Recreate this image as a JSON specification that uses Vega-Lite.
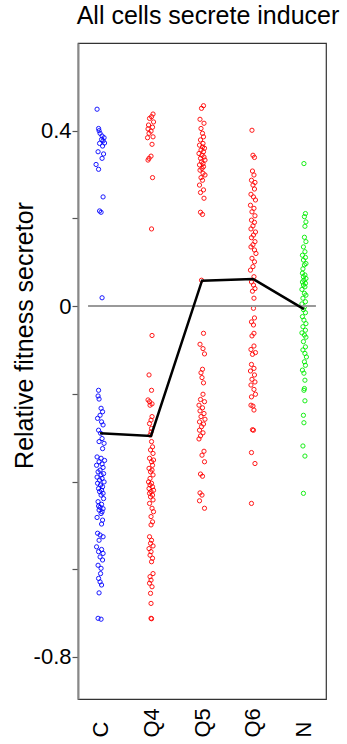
{
  "$schema": "https://vega.github.io/schema/vega-lite/v6.json",
  "width": 248,
  "height": 656,
  "autosize": {"type": "none"},
  "padding": {"left": 78, "top": 43, "right": 21, "bottom": 45},
  "background": "white",
  "title": {"text": "All cells secrete inducer", "font": "Liberation Sans", "fontSize": 25, "fontWeight": "normal", "color": "black", "offset": 18, "baseline": "alphabetic", "dx": 6, "dy": 24},
  "config": {"view": {"stroke": "#333", "strokeWidth": 1.2}, "font": "Liberation Sans"},
  "datasets": {
    "pts": [
      {"g":"C","v":0.449,"j":-0.6},{"g":"C","v":0.405,"j":-0.3},{"g":"C","v":0.400,"j":-0.2},{"g":"C","v":0.394,"j":0.0},{"g":"C","v":0.388,"j":0.4},{"g":"C","v":0.384,"j":0.8},{"g":"C","v":0.380,"j":0.3},{"g":"C","v":0.377,"j":0.6},{"g":"C","v":0.372,"j":0.9},{"g":"C","v":0.371,"j":-0.1},{"g":"C","v":0.365,"j":0.5},{"g":"C","v":0.352,"j":-0.4},{"g":"C","v":0.347,"j":0.7},{"g":"C","v":0.337,"j":0.4},{"g":"C","v":0.323,"j":-0.8},{"g":"C","v":0.312,"j":-0.3},{"g":"C","v":0.249,"j":0.6},{"g":"C","v":0.217,"j":-0.1},{"g":"C","v":0.214,"j":0.2},{"g":"C","v":0.019,"j":0.4},
      {"g":"C","v":-0.192,"j":-0.3},{"g":"C","v":-0.205,"j":-0.4},{"g":"C","v":-0.212,"j":-0.2},{"g":"C","v":-0.233,"j":0.2},{"g":"C","v":-0.241,"j":0.5},{"g":"C","v":-0.249,"j":0.0},{"g":"C","v":-0.256,"j":-0.5},{"g":"C","v":-0.264,"j":0.3},{"g":"C","v":-0.271,"j":0.6},{"g":"C","v":-0.283,"j":-0.3},{"g":"C","v":-0.290,"j":0.1},{"g":"C","v":-0.302,"j":0.4},{"g":"C","v":-0.309,"j":-0.2},{"g":"C","v":-0.313,"j":0.8},{"g":"C","v":-0.325,"j":0.5},{"g":"C","v":-0.344,"j":-0.6},{"g":"C","v":-0.347,"j":0.2},{"g":"C","v":-0.352,"j":0.9},{"g":"C","v":-0.355,"j":-0.2},{"g":"C","v":-0.360,"j":0.4},{"g":"C","v":-0.363,"j":-0.7},{"g":"C","v":-0.368,"j":0.6},{"g":"C","v":-0.374,"j":0.0},{"g":"C","v":-0.378,"j":-0.4},{"g":"C","v":-0.382,"j":0.7},{"g":"C","v":-0.385,"j":0.2},{"g":"C","v":-0.390,"j":-0.6},{"g":"C","v":-0.393,"j":0.4},{"g":"C","v":-0.397,"j":-0.1},{"g":"C","v":-0.401,"j":0.8},{"g":"C","v":-0.404,"j":-0.5},{"g":"C","v":-0.408,"j":0.1},{"g":"C","v":-0.412,"j":0.5},{"g":"C","v":-0.416,"j":-0.3},{"g":"C","v":-0.420,"j":0.3},{"g":"C","v":-0.423,"j":-0.1},{"g":"C","v":-0.427,"j":0.6},{"g":"C","v":-0.431,"j":0.2},{"g":"C","v":-0.439,"j":0.7},{"g":"C","v":-0.446,"j":-0.4},{"g":"C","v":-0.452,"j":0.3},{"g":"C","v":-0.456,"j":-0.3},{"g":"C","v":-0.459,"j":0.0},{"g":"C","v":-0.462,"j":0.6},{"g":"C","v":-0.465,"j":-0.2},{"g":"C","v":-0.469,"j":0.4},{"g":"C","v":-0.473,"j":0.2},{"g":"C","v":-0.482,"j":-0.6},{"g":"C","v":-0.488,"j":0.5},{"g":"C","v":-0.497,"j":0.3},{"g":"C","v":-0.518,"j":-0.5},{"g":"C","v":-0.522,"j":0.0},{"g":"C","v":-0.526,"j":0.6},{"g":"C","v":-0.534,"j":-0.2},{"g":"C","v":-0.549,"j":-0.7},{"g":"C","v":-0.555,"j":0.3},{"g":"C","v":-0.560,"j":-0.3},{"g":"C","v":-0.564,"j":0.6},{"g":"C","v":-0.572,"j":0.0},{"g":"C","v":-0.579,"j":0.5},{"g":"C","v":-0.591,"j":-0.4},{"g":"C","v":-0.598,"j":0.2},{"g":"C","v":-0.610,"j":0.1},{"g":"C","v":-0.621,"j":-0.3},{"g":"C","v":-0.629,"j":0.0},{"g":"C","v":-0.636,"j":0.3},{"g":"C","v":-0.654,"j":-0.2},{"g":"C","v":-0.712,"j":-0.4},{"g":"C","v":-0.714,"j":0.2},
      {"g":"Q4","v":0.438,"j":0.4},{"g":"Q4","v":0.432,"j":0.1},{"g":"Q4","v":0.428,"j":-0.3},{"g":"Q4","v":0.420,"j":0.5},{"g":"Q4","v":0.413,"j":-0.5},{"g":"Q4","v":0.408,"j":0.3},{"g":"Q4","v":0.404,"j":-0.6},{"g":"Q4","v":0.399,"j":0.0},{"g":"Q4","v":0.394,"j":-0.4},{"g":"Q4","v":0.386,"j":0.4},{"g":"Q4","v":0.384,"j":-0.7},{"g":"Q4","v":0.369,"j":0.2},{"g":"Q4","v":0.342,"j":0.0},{"g":"Q4","v":0.337,"j":-0.4},{"g":"Q4","v":0.333,"j":-0.6},{"g":"Q4","v":0.293,"j":0.3},{"g":"Q4","v":0.176,"j":0.1},{"g":"Q4","v":-0.067,"j":0.2},{"g":"Q4","v":-0.157,"j":-0.4},{"g":"Q4","v":-0.192,"j":0.1},{"g":"Q4","v":-0.214,"j":-0.6},{"g":"Q4","v":-0.218,"j":-0.3},{"g":"Q4","v":-0.223,"j":0.2},{"g":"Q4","v":-0.226,"j":-0.2},
      {"g":"Q4","v":-0.252,"j":0.2},{"g":"Q4","v":-0.260,"j":0.0},{"g":"Q4","v":-0.268,"j":-0.3},{"g":"Q4","v":-0.279,"j":0.1},{"g":"Q4","v":-0.287,"j":0.0},{"g":"Q4","v":-0.294,"j":-0.2},{"g":"Q4","v":-0.309,"j":0.1},{"g":"Q4","v":-0.321,"j":0.3},{"g":"Q4","v":-0.328,"j":-0.1},{"g":"Q4","v":-0.336,"j":0.4},{"g":"Q4","v":-0.347,"j":-0.3},{"g":"Q4","v":-0.351,"j":0.5},{"g":"Q4","v":-0.355,"j":0.1},{"g":"Q4","v":-0.363,"j":0.3},{"g":"Q4","v":-0.370,"j":-0.4},{"g":"Q4","v":-0.374,"j":0.2},{"g":"Q4","v":-0.378,"j":-0.1},{"g":"Q4","v":-0.385,"j":0.4},{"g":"Q4","v":-0.393,"j":-0.2},{"g":"Q4","v":-0.401,"j":-0.5},{"g":"Q4","v":-0.404,"j":0.1},{"g":"Q4","v":-0.408,"j":-0.2},{"g":"Q4","v":-0.412,"j":0.3},{"g":"Q4","v":-0.416,"j":-0.4},{"g":"Q4","v":-0.420,"j":0.5},{"g":"Q4","v":-0.423,"j":0.0},{"g":"Q4","v":-0.427,"j":-0.3},{"g":"Q4","v":-0.431,"j":0.3},{"g":"Q4","v":-0.435,"j":-0.1},{"g":"Q4","v":-0.442,"j":0.4},{"g":"Q4","v":-0.450,"j":-0.3},{"g":"Q4","v":-0.461,"j":0.2},{"g":"Q4","v":-0.469,"j":0.5},{"g":"Q4","v":-0.480,"j":0.0},{"g":"Q4","v":-0.492,"j":0.3},{"g":"Q4","v":-0.499,"j":0.0},{"g":"Q4","v":-0.526,"j":-0.3},{"g":"Q4","v":-0.534,"j":0.1},{"g":"Q4","v":-0.541,"j":-0.1},{"g":"Q4","v":-0.547,"j":0.4},{"g":"Q4","v":-0.553,"j":-0.4},{"g":"Q4","v":-0.560,"j":0.0},{"g":"Q4","v":-0.568,"j":-0.2},{"g":"Q4","v":-0.575,"j":0.3},{"g":"Q4","v":-0.583,"j":0.1},{"g":"Q4","v":-0.610,"j":0.4},{"g":"Q4","v":-0.617,"j":-0.2},{"g":"Q4","v":-0.625,"j":0.0},{"g":"Q4","v":-0.632,"j":-0.3},{"g":"Q4","v":-0.640,"j":0.2},{"g":"Q4","v":-0.655,"j":-0.1},{"g":"Q4","v":-0.678,"j":0.0},{"g":"Q4","v":-0.712,"j":0.0},{"g":"Q4","v":-0.713,"j":0.1},
      {"g":"Q5","v":0.457,"j":0.3},{"g":"Q5","v":0.451,"j":-0.1},{"g":"Q5","v":0.426,"j":-0.4},{"g":"Q5","v":0.417,"j":0.4},{"g":"Q5","v":0.405,"j":-0.2},{"g":"Q5","v":0.394,"j":0.1},{"g":"Q5","v":0.386,"j":0.3},{"g":"Q5","v":0.379,"j":-0.3},{"g":"Q5","v":0.371,"j":0.2},{"g":"Q5","v":0.367,"j":-0.5},{"g":"Q5","v":0.363,"j":0.1},{"g":"Q5","v":0.360,"j":0.5},{"g":"Q5","v":0.356,"j":-0.2},{"g":"Q5","v":0.352,"j":0.3},{"g":"Q5","v":0.348,"j":-0.6},{"g":"Q5","v":0.344,"j":0.0},{"g":"Q5","v":0.340,"j":0.4},{"g":"Q5","v":0.337,"j":-0.3},{"g":"Q5","v":0.333,"j":0.6},{"g":"Q5","v":0.329,"j":-0.1},{"g":"Q5","v":0.325,"j":0.2},{"g":"Q5","v":0.322,"j":-0.5},{"g":"Q5","v":0.318,"j":0.3},{"g":"Q5","v":0.314,"j":0.0},{"g":"Q5","v":0.310,"j":-0.4},{"g":"Q5","v":0.303,"j":0.2},{"g":"Q5","v":0.299,"j":0.6},{"g":"Q5","v":0.293,"j":-0.2},{"g":"Q5","v":0.287,"j":0.1},{"g":"Q5","v":0.276,"j":-0.5},{"g":"Q5","v":0.265,"j":0.3},{"g":"Q5","v":0.259,"j":-0.3},{"g":"Q5","v":0.246,"j":0.4},{"g":"Q5","v":0.214,"j":-0.3},{"g":"Q5","v":0.209,"j":0.1},{"g":"Q5","v":0.059,"j":-0.1},
      {"g":"Q5","v":-0.062,"j":0.3},{"g":"Q5","v":-0.087,"j":-0.4},{"g":"Q5","v":-0.097,"j":0.2},{"g":"Q5","v":-0.109,"j":0.5},{"g":"Q5","v":-0.144,"j":0.1},{"g":"Q5","v":-0.152,"j":-0.2},{"g":"Q5","v":-0.163,"j":0.0},{"g":"Q5","v":-0.175,"j":0.3},{"g":"Q5","v":-0.201,"j":0.2},{"g":"Q5","v":-0.213,"j":-0.3},{"g":"Q5","v":-0.218,"j":0.5},{"g":"Q5","v":-0.226,"j":-0.6},{"g":"Q5","v":-0.232,"j":0.1},{"g":"Q5","v":-0.239,"j":-0.4},{"g":"Q5","v":-0.245,"j":0.4},{"g":"Q5","v":-0.252,"j":-0.2},{"g":"Q5","v":-0.258,"j":0.6},{"g":"Q5","v":-0.264,"j":-0.5},{"g":"Q5","v":-0.269,"j":0.3},{"g":"Q5","v":-0.275,"j":-0.1},{"g":"Q5","v":-0.283,"j":-0.5},{"g":"Q5","v":-0.289,"j":0.2},{"g":"Q5","v":-0.296,"j":-0.3},{"g":"Q5","v":-0.303,"j":-0.6},{"g":"Q5","v":-0.331,"j":0.4},{"g":"Q5","v":-0.340,"j":0.0},{"g":"Q5","v":-0.355,"j":0.5},{"g":"Q5","v":-0.383,"j":-0.3},{"g":"Q5","v":-0.388,"j":0.1},{"g":"Q5","v":-0.426,"j":-0.4},{"g":"Q5","v":-0.431,"j":0.0},{"g":"Q5","v":-0.444,"j":-0.5},{"g":"Q5","v":-0.461,"j":0.5},
      {"g":"Q6","v":0.401,"j":-0.2},{"g":"Q6","v":0.344,"j":0.0},{"g":"Q6","v":0.339,"j":0.3},{"g":"Q6","v":0.308,"j":-0.1},{"g":"Q6","v":0.299,"j":0.2},{"g":"Q6","v":0.287,"j":-0.3},{"g":"Q6","v":0.282,"j":0.4},{"g":"Q6","v":0.276,"j":0.0},{"g":"Q6","v":0.267,"j":0.3},{"g":"Q6","v":0.255,"j":-0.4},{"g":"Q6","v":0.249,"j":0.1},{"g":"Q6","v":0.242,"j":0.5},{"g":"Q6","v":0.230,"j":-0.5},{"g":"Q6","v":0.223,"j":0.2},{"g":"Q6","v":0.215,"j":-0.2},{"g":"Q6","v":0.206,"j":0.4},{"g":"Q6","v":0.196,"j":-0.3},{"g":"Q6","v":0.191,"j":0.3},{"g":"Q6","v":0.183,"j":0.0},{"g":"Q6","v":0.176,"j":-0.4},{"g":"Q6","v":0.169,"j":0.5},{"g":"Q6","v":0.162,"j":0.1},{"g":"Q6","v":0.156,"j":-0.3},{"g":"Q6","v":0.147,"j":0.4},{"g":"Q6","v":0.140,"j":0.0},{"g":"Q6","v":0.135,"j":-0.4},{"g":"Q6","v":0.128,"j":0.3},{"g":"Q6","v":0.120,"j":0.6},{"g":"Q6","v":0.109,"j":-0.2},{"g":"Q6","v":0.101,"j":0.3},{"g":"Q6","v":0.090,"j":0.0},{"g":"Q6","v":0.082,"j":-0.5},{"g":"Q6","v":0.067,"j":0.2},{"g":"Q6","v":0.055,"j":-0.3},{"g":"Q6","v":0.048,"j":0.1},{"g":"Q6","v":0.040,"j":0.4},{"g":"Q6","v":0.034,"j":-0.1},{"g":"Q6","v":0.018,"j":0.2},{"g":"Q6","v":-0.005,"j":0.1},{"g":"Q6","v":-0.027,"j":0.3},{"g":"Q6","v":-0.036,"j":-0.3},{"g":"Q6","v":-0.043,"j":0.1},{"g":"Q6","v":-0.062,"j":0.2},{"g":"Q6","v":-0.068,"j":-0.2},{"g":"Q6","v":-0.091,"j":0.2},{"g":"Q6","v":-0.099,"j":-0.4},{"g":"Q6","v":-0.106,"j":0.5},{"g":"Q6","v":-0.110,"j":-0.1},{"g":"Q6","v":-0.133,"j":-0.3},{"g":"Q6","v":-0.142,"j":0.2},{"g":"Q6","v":-0.148,"j":-0.5},{"g":"Q6","v":-0.157,"j":0.3},{"g":"Q6","v":-0.167,"j":-0.2},{"g":"Q6","v":-0.173,"j":0.4},{"g":"Q6","v":-0.180,"j":-0.4},{"g":"Q6","v":-0.190,"j":0.2},{"g":"Q6","v":-0.201,"j":0.5},{"g":"Q6","v":-0.207,"j":-0.3},{"g":"Q6","v":-0.226,"j":-0.4},{"g":"Q6","v":-0.228,"j":0.0},{"g":"Q6","v":-0.237,"j":0.2},{"g":"Q6","v":-0.282,"j":-0.1},{"g":"Q6","v":-0.283,"j":0.1},{"g":"Q6","v":-0.334,"j":-0.3},{"g":"Q6","v":-0.359,"j":0.4},{"g":"Q6","v":-0.450,"j":-0.3},
      {"g":"N","v":0.325,"j":0.0},{"g":"N","v":0.211,"j":0.3},{"g":"N","v":0.204,"j":0.1},{"g":"N","v":0.192,"j":0.4},{"g":"N","v":0.182,"j":0.2},{"g":"N","v":0.157,"j":0.1},{"g":"N","v":0.147,"j":0.4},{"g":"N","v":0.135,"j":-0.1},{"g":"N","v":0.124,"j":0.2},{"g":"N","v":0.116,"j":-0.3},{"g":"N","v":0.111,"j":0.3},{"g":"N","v":0.105,"j":-0.1},{"g":"N","v":0.097,"j":0.4},{"g":"N","v":0.094,"j":0.1},{"g":"N","v":0.085,"j":-0.2},{"g":"N","v":0.075,"j":-0.3},{"g":"N","v":0.071,"j":0.2},{"g":"N","v":0.067,"j":-0.1},{"g":"N","v":0.063,"j":0.4},{"g":"N","v":0.059,"j":0.0},{"g":"N","v":0.055,"j":-0.3},{"g":"N","v":0.052,"j":0.3},{"g":"N","v":0.048,"j":-0.1},{"g":"N","v":0.044,"j":0.2},{"g":"N","v":0.038,"j":-0.4},{"g":"N","v":0.029,"j":0.1},{"g":"N","v":0.025,"j":0.4},{"g":"N","v":0.018,"j":-0.2},{"g":"N","v":0.010,"j":0.3},{"g":"N","v":0.005,"j":-0.4},{"g":"N","v":-0.002,"j":0.1},{"g":"N","v":-0.008,"j":-0.1},{"g":"N","v":-0.015,"j":0.3},{"g":"N","v":-0.024,"j":-0.3},{"g":"N","v":-0.032,"j":0.0},{"g":"N","v":-0.040,"j":0.4},{"g":"N","v":-0.047,"j":-0.2},{"g":"N","v":-0.055,"j":0.3},{"g":"N","v":-0.061,"j":-0.4},{"g":"N","v":-0.066,"j":0.1},{"g":"N","v":-0.071,"j":0.4},{"g":"N","v":-0.081,"j":-0.1},{"g":"N","v":-0.093,"j":0.3},{"g":"N","v":-0.100,"j":-0.2},{"g":"N","v":-0.108,"j":0.2},{"g":"N","v":-0.116,"j":0.5},{"g":"N","v":-0.127,"j":0.1},{"g":"N","v":-0.135,"j":0.3},{"g":"N","v":-0.146,"j":-0.3},{"g":"N","v":-0.153,"j":0.0},{"g":"N","v":-0.169,"j":0.2},{"g":"N","v":-0.188,"j":0.1},{"g":"N","v":-0.192,"j":0.0},{"g":"N","v":-0.216,"j":0.2},{"g":"N","v":-0.249,"j":-0.1},{"g":"N","v":-0.266,"j":0.0},{"g":"N","v":-0.319,"j":-0.2},{"g":"N","v":-0.342,"j":0.2},{"g":"N","v":-0.427,"j":-0.1}
    ],
    "means": [
      {"g":"C","v":-0.290,"k":1},{"g":"Q4","v":-0.296,"k":2},{"g":"Q5","v":0.058,"k":3},{"g":"Q6","v":0.062,"k":4},{"g":"N","v":-0.007,"k":5}
    ],
    "zero": [{"g":"C","g2":"N","v":0}]
  },
  "encoding": {
    "x": {
      "field": "g", "type": "nominal",
      "scale": {"type": "point", "domain": ["C","Q4","Q5","Q6","N"], "padding": 0.433},
      "axis": {"title": null, "labelAngle": 270, "labelAlign": "left", "labelBaseline": "middle", "ticks": false, "tickSize": 0, "domain": false, "labelPadding": 38, "labelFontSize": 22, "labelFont": "Liberation Sans", "labelColor": "black", "labelOverlap": false, "labelFlush": false}
    },
    "y": {
      "field": "v", "type": "quantitative",
      "scale": {"domain": [-0.896, 0.6], "nice": false, "zero": false},
      "axis": {"title": "Relative fitness secretor", "values": [-0.8,-0.6,-0.4,-0.2,0,0.2,0.4], "labelExpr": "datum.value == 0.4 ? '0.4' : datum.value == 0 ? '0' : datum.value == -0.8 ? '-0.8' : ''", "grid": false, "tickSize": 6, "tickColor": "#555", "tickWidth": 1.2, "domainColor": "#888", "domainWidth": 2, "labelPadding": 1, "labelFontSize": 22, "labelFont": "Liberation Sans", "labelColor": "black", "labelFlush": false, "labelOverlap": false, "titleFont": "Liberation Sans", "titleFontSize": 25, "titleFontWeight": "normal", "titleColor": "black", "titleAngle": 270, "titleAlign": "center", "titleBaseline": "alphabetic", "titleX": -46, "titleY": 292}
    }
  },
  "layer": [
    {
      "data": {"name": "pts"},
      "mark": {"type": "point", "shape": "circle", "filled": false, "size": 18, "strokeWidth": 1, "opacity": 0.9},
      "encoding": {
        "xOffset": {"field": "j", "type": "quantitative", "scale": {"domain": [-1, 1], "range": [-5, 5]}},
        "color": {"field": "g", "type": "nominal", "scale": {"domain": ["C","Q4","Q5","Q6","N"], "range": ["#0000ff","#ff0000","#ff0000","#ff0000","#00ee00"]}, "legend": null}
      }
    },
    {
      "data": {"name": "zero"},
      "mark": {"type": "rule", "color": "#999999", "strokeWidth": 2, "xOffset": -12, "x2Offset": 12},
      "encoding": {"x2": {"field": "g2"}}
    },
    {
      "data": {"name": "means"},
      "mark": {"type": "line", "color": "black", "strokeWidth": 2.5},
      "encoding": {"order": {"field": "k", "type": "quantitative"}}
    }
  ]
}
